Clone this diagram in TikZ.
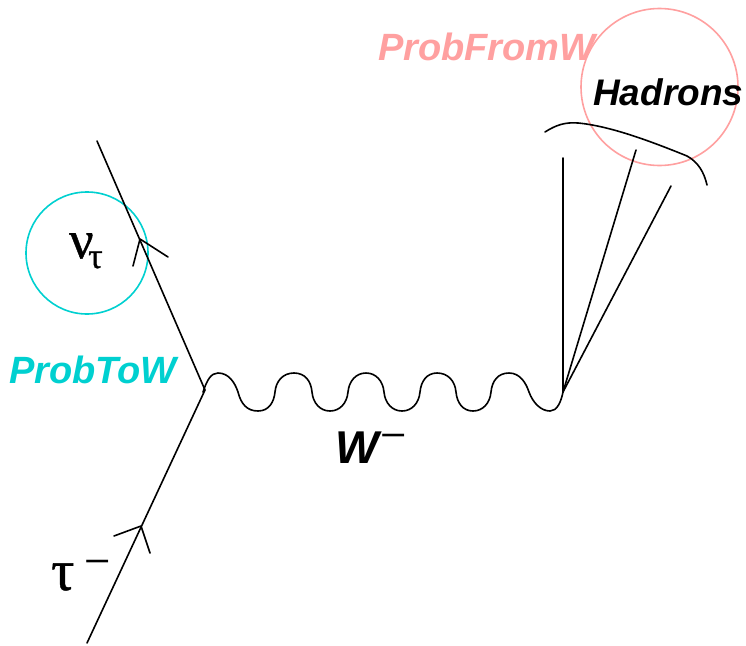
\documentclass[tikz,border=0pt]{standalone}
\usepackage{fontspec}
\setmainfont{Liberation Sans}
\newfontfamily\grk[FakeBold=0.8]{Liberation Serif}
\definecolor{cyanc}{RGB}{0,208,208}
\definecolor{pinkc}{RGB}{255,160,160}
\tikzset{
  line/.style={draw=black,line width=1.6pt,line cap=round,line join=round},
  ring/.style={draw,circle,line width=1.6pt,inner sep=0pt,fill=none},
  lab/.style={inner sep=0pt,anchor=base west,font=\fontsize{38}{38}\selectfont\bfseries\itshape},
  minuslab/.style={inner sep=0pt,anchor=base west,font=\fontsize{36}{36}\selectfont},
  grklab/.style={inner sep=0pt,anchor=base west,font=\grk}
}
\begin{document}
\begin{tikzpicture}[x=1pt,y=-1pt]
\useasboundingbox (0,0) rectangle (746,645);
\node[ring,draw=cyanc,minimum size=122pt] (cc) at (87,253) {};
\node[ring,draw=pinkc,minimum size=157pt] (pc) at (659.5,87) {};
\coordinate (v1) at (205,390);
\coordinate (v2) at (563,392);
\coordinate (nuEnd) at (97,141);
\coordinate (tauEnd) at (87,643);
\coordinate (j1) at (563,158);
\coordinate (j2) at (636,150);
\coordinate (j3) at (671,186);
\coordinate (a1) at (140,239);
\coordinate (a2) at (141,526);
\draw[line] (nuEnd) -- (v1);
\draw[line] (tauEnd) -- (v1);
\draw[line] (133,266) -- (a1) -- (168,257);
\draw[line] (114,536) -- (a2) -- (150,553);
\draw[line] (j1) -- (v2);
\draw[line] (j2) -- (v2);
\draw[line] (j3) -- (v2);
\draw[line] (545,132) .. controls (556,125) and (565,122) .. (578,123)
  .. controls (610,126) and (650,141) .. (687,156)
  .. controls (698,162) and (704,172) .. (707,185);
\draw[line] (203,392) .. controls (207,380) and (211,373) .. (218,373)
  .. controls (229,373) and (235,383) .. (238,392)
  .. controls (241,404) and (247,411) .. (258,411)
  .. controls (269,411) and (274,402) .. (275,392)
  .. controls (276,381) and (283,373) .. (294,373)
  .. controls (305,373) and (311,381) .. (312,392)
  .. controls (313,403) and (320,411) .. (330,411)
  .. controls (340,411) and (347,403) .. (348,392)
  .. controls (349,381) and (356,373) .. (366,373)
  .. controls (376,373) and (383,381) .. (384,392)
  .. controls (385,403) and (392,411) .. (402,411)
  .. controls (412,411) and (419,403) .. (420,392)
  .. controls (421,381) and (427,373) .. (437,373)
  .. controls (448,373) and (455,381) .. (456,392)
  .. controls (457,403) and (463,411) .. (473,411)
  .. controls (483,411) and (490,403) .. (491,392)
  .. controls (492,381) and (498,373) .. (509,373)
  .. controls (520,373) and (526,383) .. (529,392)
  .. controls (533,403) and (541,411) .. (550,411)
  .. controls (557,411) and (561,402) .. (v2);
\node[lab,text=cyanc] (ptw) at (9,383) {ProbToW};
\node[lab,text=pinkc] (pfw) at (378,60) {ProbFromW};
\node[lab,text=black,font=\fontsize{37}{37}\selectfont\bfseries\itshape] (had) at (593,105) {Hadrons};
\node[lab,text=black,font=\fontsize{46}{46}\selectfont\bfseries\itshape] (wm) at (335,463) {W};
\node[minuslab] (wmm) at (380,447) {\scalebox{1.25}[1]{\char"2212}};
\node[grklab,font=\grk\fontsize{54}{54}\selectfont] (nu) at (69,258) {ν};
\node[grklab,font=\grk\fontsize{36}{36}\selectfont] (nus) at (88,268) {τ};
\node[grklab,font=\grk\fontsize{58}{58}\selectfont] (tau) at (51,590) {τ};
\node[minuslab] (taum) at (84,573) {\scalebox{1.25}[1]{\char"2212}};
\end{tikzpicture}
\end{document}
